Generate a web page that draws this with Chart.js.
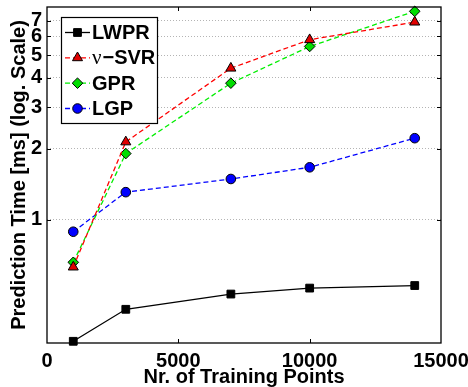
<!DOCTYPE html>
<html lang="en">
<head>
<meta charset="UTF-8">
<title>Prediction Time vs Training Points</title>
<script src="https://cdn.jsdelivr.net/npm/chart.js"></script>
<style>
  html, body { margin: 0; padding: 0; background: #fff; }
  #wrap { width: 468px; height: 387px; }
</style>
</head>
<body>
<div id="wrap"><canvas id="c" width="468" height="387"></canvas></div>
<script>
// data
const trainingPoints = [1000, 3000, 7000, 10000, 14000];
const lwpr = [0.305, 0.417, 0.484, 0.513, 0.526];
const svr  = [0.63, 2.14, 4.40, 5.81, 6.90];
const gpr  = [0.66, 1.91, 3.80, 5.44, 7.67];
const lgp  = [0.89, 1.31, 1.49, 1.67, 2.22];
const seriesNames = ['LWPR', 'ν−SVR', 'GPR', 'LGP'];
const xTicks = [0, 5000, 10000, 15000];
const yTicks = [1, 2, 3, 4, 5, 6, 7];

const FONT = 'Liberation Sans, Arial, sans-serif';

function pts(vals) {
    return vals.map((v, i) => ({ x: trainingPoints[i], y: v }));
}

const styles = [
    { color: '#000', fill: '#000', dash: [], pointStyle: 'rect', r: 5.5 },
    { color: '#ff0000', fill: '#e00000', dash: [5, 3], pointStyle: 'triangle', r: 5.8 },
    { color: '#00ee00', fill: '#00dd00', dash: [5, 3], pointStyle: 'rectRot', r: 5.3 },
    { color: '#0000ff', fill: '#0000ff', dash: [5, 3], pointStyle: 'circle', r: 4.8 }
];

const datasets = [lwpr, svr, gpr, lgp].map((vals, i) => ({
    label: seriesNames[i],
    data: pts(vals),
    borderColor: styles[i].color,
    borderWidth: 1.3,
    borderDash: styles[i].dash,
    backgroundColor: styles[i].fill,
    pointStyle: styles[i].pointStyle,
    pointRadius: styles[i].r,
    pointBackgroundColor: styles[i].fill,
    pointBorderColor: '#000',
    pointBorderWidth: 1,
    clip: false
}));

// frame, inside ticks and the legend box
const decor = {
    id: 'decor',
    afterDraw(chart) {
        const ctx = chart.ctx;
        const a = chart.chartArea;
        const xs = chart.scales.x, ys = chart.scales.y;
        ctx.save();
        ctx.strokeStyle = '#000';
        ctx.lineWidth = 1.3;
        ctx.setLineDash([]);
        ctx.strokeRect(a.left, a.top, a.right - a.left, a.bottom - a.top);
        ctx.lineWidth = 1;
        ctx.beginPath();
        xTicks.slice(1, -1).forEach(v => {
            const px = Math.round(xs.getPixelForValue(v)) + 0.5;
            ctx.moveTo(px, a.bottom); ctx.lineTo(px, a.bottom - 4);
            ctx.moveTo(px, a.top); ctx.lineTo(px, a.top + 4);
        });
        yTicks.forEach(v => {
            const py = Math.round(ys.getPixelForValue(v)) + 0.5;
            ctx.moveTo(a.left, py); ctx.lineTo(a.left + 4, py);
            ctx.moveTo(a.right, py); ctx.lineTo(a.right - 4, py);
        });
        ctx.stroke();

        // legend
        const bx = 61, by = 17, bw = 96, bh = 106;
        ctx.fillStyle = '#fff';
        ctx.fillRect(bx, by, bw, bh);
        ctx.lineWidth = 1.2;
        ctx.strokeRect(bx + 0.5, by + 0.5, bw, bh);
        const rowY = [32.5, 57.8, 83.2, 108.5];
        chart.data.datasets.forEach((ds, i) => {
            const y = rowY[i];
            ctx.strokeStyle = ds.borderColor;
            ctx.lineWidth = ds.borderWidth;
            ctx.setLineDash(ds.borderDash);
            ctx.beginPath();
            ctx.moveTo(65, y); ctx.lineTo(90, y);
            ctx.stroke();
            ctx.setLineDash([]);
            ctx.fillStyle = ds.pointBackgroundColor;
            ctx.strokeStyle = ds.pointBorderColor;
            ctx.lineWidth = ds.pointBorderWidth;
            Chart.helpers.drawPoint(ctx, {
                pointStyle: ds.pointStyle, radius: ds.pointRadius,
                borderWidth: ds.pointBorderWidth, rotation: 0
            }, 77.5, y);
            ctx.fillStyle = '#000';
            ctx.textBaseline = 'middle';
            ctx.textAlign = 'left';
            let tx = 92;
            let label = ds.label;
            if (label.startsWith('ν')) {
                ctx.font = '21px "Liberation Serif", serif';
                ctx.fillText('ν', tx, y + 1);
                tx += ctx.measureText('ν').width + 1;
                label = label.slice(1);
            }
            ctx.font = 'bold 20px ' + FONT;
            ctx.fillText(label, tx, y + 1);
        });
        ctx.restore();
    }
};

new Chart(document.getElementById('c'), {
    type: 'line',
    data: { datasets },
    options: {
        responsive: false,
        animation: false,
        layout: { padding: { top: 7, right: 27, left: 0, bottom: 0 } },
        plugins: { legend: { display: false }, tooltip: { enabled: false } },
        scales: {
            x: {
                type: 'linear',
                min: 0, max: 15000,
                afterBuildTicks(s) { s.ticks = xTicks.map(v => ({ value: v })); },
                afterFit(s) { s.height = 44; s.paddingLeft = 0; s.paddingRight = 0; },
                grid: { display: false, drawTicks: false },
                border: { display: false },
                ticks: {
                    color: '#000', font: { family: FONT, size: 20, weight: 'bold' }, padding: 6, maxRotation: 0,
                    callback: v => String(v)
                },
                title: {
                    display: true, text: 'Nr. of Training Points', color: '#000',
                    font: { family: FONT, size: 20, weight: 'bold', lineHeight: 1.0 },
                    padding: { top: 0, bottom: 0 }
                }
            },
            y: {
                type: 'logarithmic',
                min: 0.3, max: 8,
                afterBuildTicks(s) { s.ticks = yTicks.map(v => ({ value: v })); },
                afterFit(s) { s.width = 47; s.paddingTop = 0; s.paddingBottom = 0; },
                grid: { color: '#b4b4b4', lineWidth: 1, drawTicks: false },
                border: { display: false, dash: [1, 2] },
                ticks: {
                    color: '#000', font: { family: FONT, size: 20, weight: 'bold' }, padding: 5,
                    callback: v => String(v)
                },
                title: {
                    display: true, text: 'Prediction Time [ms] (log. Scale)', color: '#000',
                    font: { family: FONT, size: 20, weight: 'bold', lineHeight: 1.2 },
                    padding: { top: 7, bottom: 0 }
                }
            }
        }
    },
    plugins: [decor]
});
</script>
</body>
</html>
